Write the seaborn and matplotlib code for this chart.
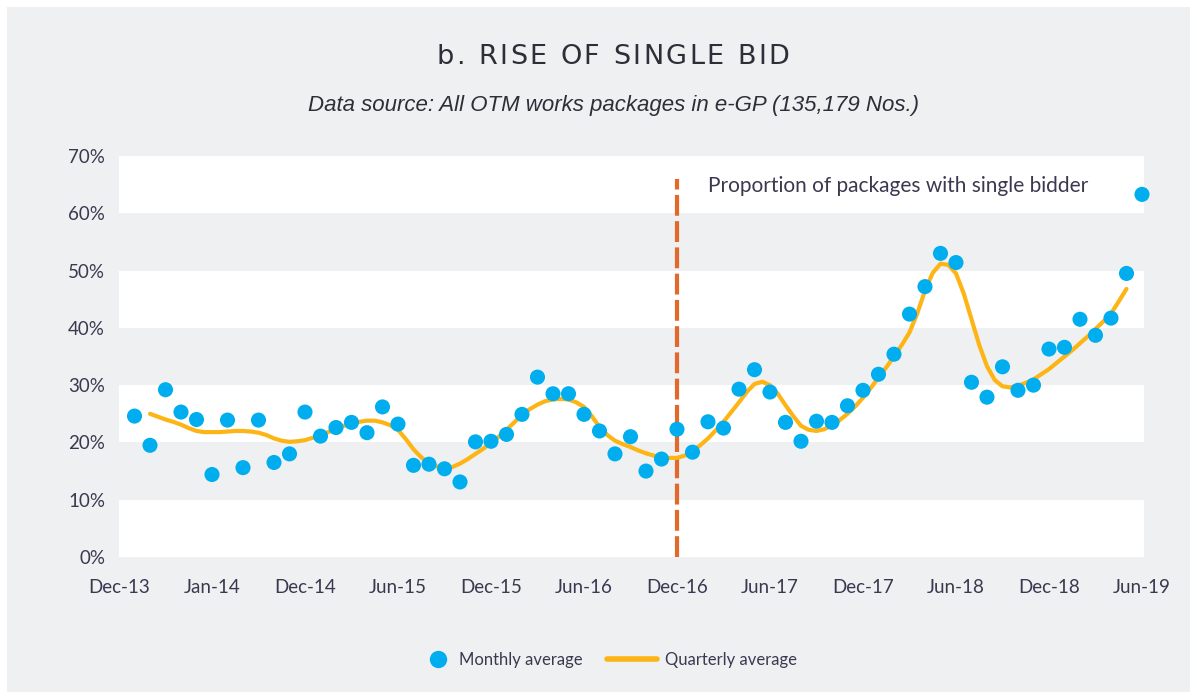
import matplotlib
matplotlib.use("Agg")
import matplotlib.pyplot as plt
import numpy as np
import pandas as pd
import seaborn as sns
from matplotlib.font_manager import FontProperties
from matplotlib.lines import Line2D
from matplotlib.patches import Rectangle
from matplotlib.textpath import TextToPath

# month index: 0 = Dec-13, 1 = Jan-14 ... 66 = Jun-19
MONTHS = list(range(1, 67))
MONTHLY_PCT = [
    24.6, 19.5, 29.2, 25.3, 24.0, 14.4, 23.9, 15.6, 23.9, 16.5, 18.0, 25.3,
    21.1, 22.6, 23.5, 21.7, 26.2, 23.2, 16.0, 16.2, 15.4, 13.1, 20.1, 20.2,
    21.4, 24.9, 31.4, 28.5, 28.5, 24.9, 22.0, 18.0, 21.0, 15.0, 17.1, 22.3,
    18.3, 23.6, 22.5, 29.3, 32.7, 28.8, 23.5, 20.2, 23.7, 23.5, 26.4, 29.1,
    31.9, 35.4, 42.4, 47.2, 53.0, 51.4, 30.5, 27.9, 33.2, 29.1, 30.0, 36.3,
    36.6, 41.5, 38.7, 41.7, 49.5, 63.3,
]

# quarterly (smoothed) curve, every half month
QUARTER_MONTHS = [m / 2 for m in range(4, 131)]
QUARTERLY_PCT = [
    25.0, 24.5, 24.0, 23.6, 23.1, 22.5, 22.0, 21.8, 21.8, 21.8, 21.9, 22.0,
    22.0, 21.9, 21.7, 21.3, 20.7, 20.3, 20.1, 20.2, 20.4, 20.8, 21.3, 21.8,
    22.4, 22.9, 23.3, 23.6, 23.8, 23.8, 23.5, 23.0, 22.2, 20.6, 18.8, 17.4,
    16.4, 15.8, 15.5, 15.7, 16.3, 17.1, 18.0, 18.9, 19.9, 21.0, 22.2, 23.5,
    24.8, 25.8, 26.6, 27.2, 27.5, 27.6, 27.5, 27.0, 26.2, 24.6, 22.7, 21.3,
    20.3, 19.7, 19.2, 18.6, 18.1, 17.7, 17.4, 17.3, 17.3, 17.7, 18.5, 19.5,
    20.7, 22.1, 23.6, 25.3, 27.0, 28.8, 30.2, 30.6, 30.0, 28.5, 26.5, 24.6,
    22.9, 22.2, 22.0, 22.3, 23.0, 23.9, 25.0, 26.3, 27.8, 29.5, 31.3, 33.1,
    35.0, 37.0, 39.2, 42.5, 46.5, 49.6, 51.2, 51.0, 49.5, 46.0, 41.5, 37.0,
    33.3, 30.9, 29.8, 29.6, 29.9, 30.4, 31.0, 31.9, 32.8, 33.9, 35.0, 36.1,
    37.3, 38.5, 39.8, 41.1, 42.5, 44.6, 46.8,
]

TICK_MONTHS = list(range(0, 67, 6))
TICK_LABELS = ["Dec-13", "Jan-14", "Dec-14", "Jun-15", "Dec-15", "Jun-16",
               "Dec-16", "Jun-17", "Dec-17", "Jun-18", "Dec-18", "Jun-19"]
Y_TICKS = [0, 10, 20, 30, 40, 50, 60, 70]

POLICY_MONTH = 36
POLICY_TOP = 66

TITLE = "b. RISE OF SINGLE BID"
SUBTITLE = "Data source: All OTM works packages in e-GP (135,179 Nos.)"
NOTE = "Proportion of packages with single bidder"

BG = "#eff0f2"
DOT = "#00aeef"
LINE = "#fdb515"
DASH = "#e2692a"
TEXT = "#3b3850"

sns.set_theme(style="white")
plt.rcParams["font.family"] = ["Lato", "DejaVu Sans"]

fig = plt.figure(figsize=(11.97, 6.98), dpi=100, facecolor="white")
fig.patches.append(Rectangle((0.006, 0.008), 0.988, 0.982, transform=fig.transFigure,
                             facecolor=BG, edgecolor="none", zorder=-10))

ax = fig.add_axes([119 / 1197, 1 - 557 / 698, (1144 - 119) / 1197, (557 - 156) / 698])
ax.set_facecolor(BG)
for lo in (0, 20, 40, 60):
    ax.axhspan(lo, lo + 10, color="white", lw=0, zorder=0)

monthly = pd.DataFrame({"month": MONTHS, "pct": MONTHLY_PCT})
quarterly = pd.DataFrame({"month": QUARTER_MONTHS, "pct": QUARTERLY_PCT})

ax.vlines(POLICY_MONTH, 0, POLICY_TOP, colors=DASH, lw=3, linestyles=(0, (5, 1.3)), zorder=2)
sns.lineplot(data=quarterly, x="month", y="pct", ax=ax, color=LINE, lw=3,
             solid_capstyle="round", solid_joinstyle="round", zorder=3)
sns.scatterplot(data=monthly, x="month", y="pct", ax=ax, color=DOT, s=118,
                edgecolor="none", zorder=4, clip_on=False)

ax.text(38.0, 64.7, NOTE, fontsize=15, color=TEXT, va="center", ha="left")

ax.set_xlim(0, 66.13)
ax.set_ylim(0, 70)
ax.set_xticks(TICK_MONTHS)
ax.set_xticklabels(TICK_LABELS)
ax.set_yticks(Y_TICKS)
ax.set_yticklabels([f"{v}%" for v in Y_TICKS])
ax.tick_params(axis="x", length=0, pad=16, labelsize=13.5, labelcolor=TEXT)
ax.tick_params(axis="y", length=0, pad=10, labelsize=13.5, labelcolor=TEXT)
ax.set_xlabel("")
ax.set_ylabel("")
for sp in ax.spines.values():
    sp.set_visible(False)
ax.grid(False)


def spaced_title(text, xc_px, y_px, width_px, prop, color):
    # letter-spaced heading: place each character with even tracking
    ttp = TextToPath()
    widths = [ttp.get_text_width_height_descent(c, prop, ismath=False)[0] * 100 / 72
              for c in text]
    track = (width_px - sum(widths)) / (len(text) - 1)
    x = xc_px - width_px / 2
    for c, w in zip(text, widths):
        fig.text(x / 1197, 1 - y_px / 698, c, fontproperties=prop, color=color,
                 ha="left", va="center")
        x += w + track


title_prop = FontProperties(family=["Liberation Sans Narrow", "DejaVu Sans"], size=19.5)
spaced_title(TITLE, 613, 57, 353, title_prop, "#2e2e38")

fig.text(613 / 1197, 1 - 105 / 698, SUBTITLE, ha="center", va="center",
         fontsize=16, style="italic", color="#2e2e38",
         family=["Liberation Sans Narrow", "Liberation Sans", "DejaVu Sans"])

dot_handle = Line2D([], [], ls="none", marker="o", markersize=12.5, color=DOT,
                    markeredgewidth=0)
line_handle = Line2D([], [], color=LINE, lw=4)
fig.legend([dot_handle], ["Monthly average"], loc="center",
           bbox_to_anchor=(506 / 1197, 1 - 660 / 698), frameon=False,
           fontsize=12, labelcolor=TEXT, handlelength=1.0, handletextpad=0.8)
fig.legend([line_handle], ["Quarterly average"], loc="center",
           bbox_to_anchor=(702 / 1197, 1 - 660 / 698), frameon=False,
           fontsize=12, labelcolor=TEXT, handlelength=3.0, handletextpad=0.5)

fig.savefig("out.png", dpi=100, facecolor="white")
